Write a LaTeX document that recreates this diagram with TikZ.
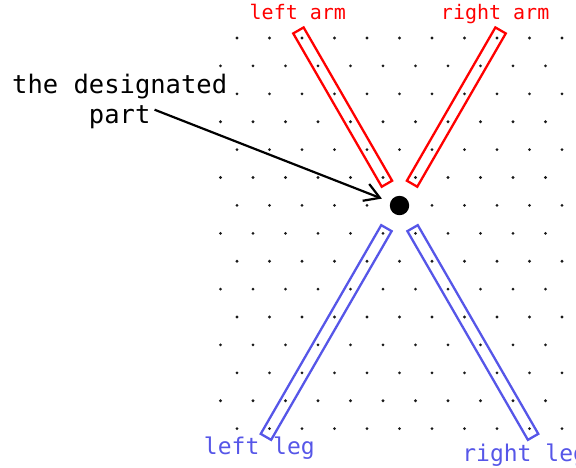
\documentclass[tikz,border=0pt]{standalone}
\usepackage{fontspec}
\setmonofont{DejaVu Sans Mono}
\usetikzlibrary{arrows.meta, positioning, calc}
\definecolor{armred}{HTML}{FF0000}
\definecolor{legblue}{HTML}{5656E8}

\begin{document}
\begin{tikzpicture}[
    x=1pt, y=1pt,
    body/.style={circle, fill=black, inner sep=0pt, minimum size=19.4pt},
    limb/.style={rectangle, line width=2.3pt, inner sep=0pt, minimum height=12pt, anchor=west},
    armlabel/.style={text=armred, font=\ttfamily\fontsize{20}{24}\selectfont, inner sep=0pt},
    leglabel/.style={text=legblue, font=\ttfamily\fontsize{23}{28}\selectfont, inner sep=0pt},
    note/.style={font=\ttfamily\fontsize{25.5}{30}\selectfont, inner sep=0pt},
    arrow/.style={-{Straight Barb[length=15pt, width=18pt]}, line width=2.2pt}
  ]
  \useasboundingbox (0,0) rectangle (576,-467);

  % triangular grid of points
  \foreach \row in {0,...,14} {
    \pgfmathsetmacro{\rowx}{mod(\row,2)==0 ? 237 : 220.5}
    \foreach \col in {0,...,11}
      \fill[black!90] (\rowx+32.5*\col, -38-27.9*\row) circle (1.55);
  }

  \node[body] (body) at (399.5,-205.5) {};

  % the four limbs
  \node[limb, draw=armred, rotate=120, minimum width=177pt] (leftarm) at ($(body.center)+(120:24)$) {};
  \node[limb, draw=armred, rotate=60, minimum width=177pt] (rightarm) at ($(body.center)+(60:24)$) {};
  \node[limb, draw=legblue, rotate=240, minimum width=241pt] (leftleg) at ($(body.center)+(240:25)$) {};
  \node[limb, draw=legblue, rotate=300, minimum width=241pt] (rightleg) at ($(body.center)+(300:25)$) {};

  \node[armlabel, above=10pt of leftarm.east, anchor=base] (leftarmlabel) {left arm};
  \node[armlabel, above=10pt of rightarm.east, anchor=base, xshift=-6pt] (rightarmlabel) {right arm};
  \node[leglabel, below=17pt of leftleg.east, anchor=base, xshift=-6pt] (leftleglabel) {left leg};
  \node[leglabel, below=24pt of rightleg.east, anchor=base, xshift=-9pt] (rightleglabel) {right leg};

  \node[note, anchor=base west] (designated) at (12,-93) {the designated};
  \node[note, below=30pt of designated.base, anchor=base] (part) {part};
  \draw[arrow, shorten >=9pt] ([xshift=4pt, yshift=7pt]part.east) -- (body);
\end{tikzpicture}
\end{document}
